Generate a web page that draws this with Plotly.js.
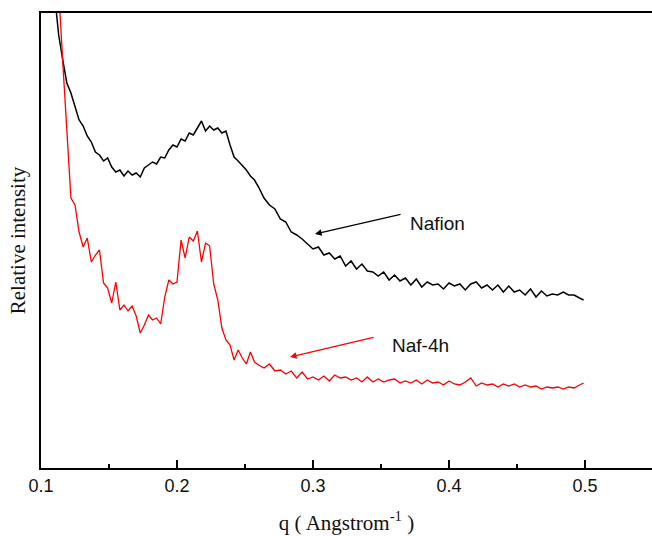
<!DOCTYPE html>
<html>
<head>
<meta charset="utf-8">
<script src="https://cdn.plot.ly/plotly-3.0.1.min.js"></script>
<style>html,body{margin:0;padding:0;background:#fff;}#chart{width:652px;height:536px;}</style>
</head>
<body>
<div id="chart"></div>
<script>
// Scattering vector q (Angstrom^-1)
const q = [
  0.110,0.113,0.116,0.119,0.122,0.125,0.128,0.131,0.134,0.137,
  0.140,0.143,0.146,0.149,0.152,0.155,0.158,0.161,0.164,0.167,
  0.170,0.173,0.176,0.179,0.182,0.185,0.188,0.191,0.194,0.197,
  0.200,0.203,0.206,0.209,0.212,0.215,0.218,0.221,0.224,0.227,
  0.230,0.233,0.236,0.239,0.242,0.245,0.248,0.251,0.254,0.257,
  0.260,
  0.264,0.268,0.272,0.276,0.280,0.284,0.288,0.292,0.296,0.300,
  0.304,0.308,0.312,0.316,0.320,0.324,0.328,0.332,0.336,0.340,
  0.344,0.348,0.352,0.356,0.360,0.364,0.368,0.372,0.376,0.380,
  0.384,0.388,0.392,0.396,0.400,0.404,0.408,0.412,0.416,0.420,
  0.424,0.428,0.432,0.436,0.440,0.444,0.448,0.452,0.456,0.460,
  0.464,0.468,0.472,0.476,0.480,0.484,0.488,0.492,0.496,0.499
];

// Relative intensity (a.u.) – Nafion
const nafion = [
  473,433,408,385,375,362,348,342,332,326,
  316,313,307,310,301,296,298,292,297,293,
  295,291,300,303,306,304,311,310,318,323,
  321,329,327,335,333,340,347,337,342,338,
  340,335,337,323,311,307,303,298,292,288,
  281,
  270,263,259,249,246,236,233,229,224,219,
  221,213,215,209,212,202,207,199,204,197,
  196,192,196,188,193,187,190,183,189,181,
  186,183,184,179,185,182,184,178,184,186,
  180,183,178,183,176,182,176,178,173,179,
  171,177,172,174,173,176,173,173,170,168
];

// Relative intensity (a.u.) – Naf-4h
const naf4h = [
  518,478,406,335,270,263,236,221,230,206,
  213,218,185,180,165,186,158,163,157,162,
  152,135,143,153,148,150,144,171,188,184,
  186,228,210,231,227,237,206,225,222,184,
  168,140,128,123,108,118,110,104,116,106,
  103,
  100,104,97,98,94,97,90,96,89,91,
  88,92,87,93,90,91,88,90,86,91,
  86,89,86,88,89,85,87,85,88,84,
  88,85,86,83,87,84,83,86,90,82,
  85,83,84,81,84,82,84,81,83,81,
  82,79,81,80,81,79,81,80,83,85
];

const xTickVals = [0.1, 0.2, 0.3, 0.4, 0.5];
const xTickText = ["0.1", "0.2", "0.3", "0.4", "0.5"];
const labels = ["Nafion", "Naf-4h"];

const traces = [
  {x: q, y: nafion, mode: 'lines', name: labels[0], line: {color: '#000000', width: 1.5}},
  {x: q, y: naf4h, mode: 'lines', name: labels[1], line: {color: '#ff0000', width: 1.3}}
];

const labelFont = {family: 'Liberation Sans, Arial, sans-serif', size: 19, color: '#111111'};

const layout = {
  width: 652, height: 536,
  margin: {l: 41, r: 0, t: 13, b: 68},
  paper_bgcolor: '#ffffff', plot_bgcolor: '#ffffff',
  showlegend: false,
  xaxis: {
    range: [0.1, 0.5493],
    showline: true, linewidth: 2, linecolor: '#000000', mirror: true,
    showgrid: false, zeroline: false,
    ticks: 'inside', ticklen: 8, tickwidth: 1.5, tickcolor: '#000000',
    tickvals: xTickVals, ticktext: xTickText,
    minor: {dtick: 0.05, tick0: 0.1, ticks: 'inside', ticklen: 4, tickwidth: 1.5, tickcolor: '#000000', showgrid: false},
    tickfont: {family: 'Liberation Sans, Arial, sans-serif', size: 18, color: '#111111'},
    title: {text: 'q ( Angstrom<sup>-1</sup> )', font: {family: 'Liberation Serif, Times New Roman, serif', size: 21, color: '#111111'}, standoff: 21}
  },
  yaxis: {
    range: [0, 455],
    showline: true, linewidth: 2, linecolor: '#000000', mirror: false,
    showgrid: false, zeroline: false, showticklabels: false, ticks: '',
    title: {text: 'Relative intensity', font: {family: 'Liberation Serif, Times New Roman, serif', size: 21, color: '#111111'}, standoff: 8}
  },
  annotations: [
    {x: 0.3015, y: 234, ax: 87, ay: -20, xref: 'x', yref: 'y', axref: 'pixel', ayref: 'pixel',
     showarrow: true, arrowhead: 2, arrowsize: 1.2, arrowwidth: 1.1, arrowcolor: '#000000', text: ''},
    {x: 0.3912, y: 245, xref: 'x', yref: 'y', showarrow: false, text: labels[0], font: labelFont},
    {x: 0.2831, y: 111, ax: 85, ay: -20, xref: 'x', yref: 'y', axref: 'pixel', ayref: 'pixel',
     showarrow: true, arrowhead: 2, arrowsize: 1.2, arrowwidth: 1.1, arrowcolor: '#ff0000', text: ''},
    {x: 0.3794, y: 123, xref: 'x', yref: 'y', showarrow: false, text: labels[1], font: labelFont}
  ]
};

Plotly.newPlot('chart', traces, layout, {displayModeBar: false, staticPlot: true});
</script>
</body>
</html>
